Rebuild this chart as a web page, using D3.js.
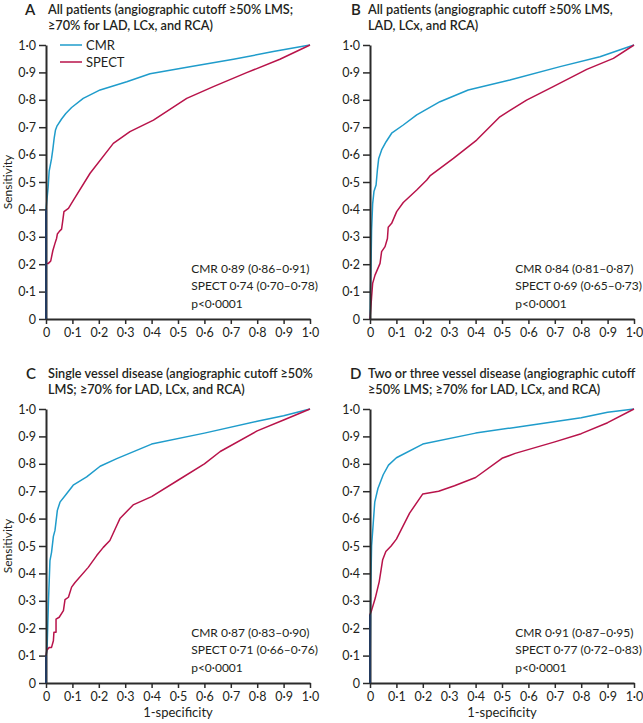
<!DOCTYPE html>
<html><head><meta charset="utf-8">
<script src="https://cdn.jsdelivr.net/npm/d3@7"></script>
<style>
html,body{margin:0;padding:0;background:#fff;overflow:hidden;}
svg{display:block;}
svg text{font-family:Lato,"Noto Sans",sans-serif;fill:#231f20;}
</style></head>
<body><svg id="c" width="643" height="723"></svg>
<script>
// ---------- data ----------
const panelLetters = ["A","B","C","D"];
const panelTitles = [
  ["All patients (angiographic cutoff \u226550% LMS;", "\u226570% for LAD, LCx, and RCA)"],
  ["All patients (angiographic cutoff \u226550% LMS,", "LAD, LCx, and RCA)"],
  ["Single vessel disease (angiographic cutoff \u226550%", "LMS; \u226570% for LAD, LCx, and RCA)"],
  ["Two or three vessel disease (angiographic cutoff", "\u226550% LMS; \u226570% for LAD, LCx, and RCA)"]
];
const seriesNames = ["CMR","SPECT"];
const annotations = [
  ["CMR 0\u00b789 (0\u00b786\u20130\u00b791)","SPECT 0\u00b774 (0\u00b770\u20130\u00b778)","p<0\u00b70001"],
  ["CMR 0\u00b784 (0\u00b781\u20130\u00b787)","SPECT 0\u00b769 (0\u00b765\u20130\u00b773)","p<0\u00b70001"],
  ["CMR 0\u00b787 (0\u00b783\u20130\u00b790)","SPECT 0\u00b771 (0\u00b766\u20130\u00b776)","p<0\u00b70001"],
  ["CMR 0\u00b791 (0\u00b787\u20130\u00b795)","SPECT 0\u00b777 (0\u00b772\u20130\u00b783)","p<0\u00b70001"]
];
const tickValues = [0,0.1,0.2,0.3,0.4,0.5,0.6,0.7,0.8,0.9,1.0];
const tickLabels = ["0","0\u00b71","0\u00b72","0\u00b73","0\u00b74","0\u00b75","0\u00b76","0\u00b77","0\u00b78","0\u00b79","1\u00b70"];
const xAxisTitle = "1-specificity";
const yAxisTitle = "Sensitivity";

const cmrA = [[0,0],[0,0.40],[0.004,0.44],[0.008,0.48],[0.012,0.54],[0.016,0.56],[0.021,0.585],[0.026,0.62],[0.031,0.66],[0.036,0.69],[0.042,0.705],[0.059,0.73],[0.075,0.75],[0.097,0.772],[0.141,0.805],[0.205,0.836],[0.306,0.866],[0.394,0.895],[0.545,0.921],[0.71,0.948],[0.861,0.976],[1,1]];
const spectA = [[0,0],[0,0.203],[0.009,0.203],[0.018,0.212],[0.026,0.25],[0.034,0.276],[0.04,0.294],[0.043,0.31],[0.05,0.319],[0.059,0.328],[0.063,0.355],[0.068,0.392],[0.085,0.404],[0.104,0.434],[0.167,0.532],[0.255,0.641],[0.318,0.684],[0.407,0.726],[0.533,0.805],[0.634,0.848],[0.76,0.899],[0.886,0.948],[1,1]];

const cmrB = [[0,0],[0.004,0.2],[0.006,0.325],[0.01,0.42],[0.015,0.465],[0.023,0.489],[0.028,0.544],[0.033,0.586],[0.044,0.617],[0.061,0.647],[0.082,0.678],[0.126,0.708],[0.177,0.745],[0.265,0.793],[0.372,0.836],[0.53,0.872],[0.72,0.921],[0.871,0.957],[1,1]];
const spectB = [[0,0],[0.006,0.08],[0.01,0.13],[0.019,0.16],[0.038,0.203],[0.044,0.246],[0.057,0.264],[0.066,0.294],[0.069,0.335],[0.082,0.349],[0.101,0.392],[0.126,0.425],[0.177,0.471],[0.215,0.507],[0.227,0.522],[0.316,0.586],[0.404,0.653],[0.492,0.738],[0.593,0.799],[0.694,0.848],[0.821,0.911],[0.922,0.951],[1,1]];

const cmrC = [[0,0],[0,0.099],[0.004,0.12],[0.009,0.288],[0.015,0.447],[0.021,0.477],[0.028,0.535],[0.034,0.557],[0.043,0.63],[0.053,0.66],[0.078,0.691],[0.103,0.722],[0.154,0.752],[0.205,0.791],[0.268,0.819],[0.4,0.872],[0.6,0.912],[0.8,0.955],[0.9,0.975],[1,1]];
const spectC = [[0,0],[0,0.099],[0.003,0.12],[0.0125,0.13],[0.021,0.13],[0.028,0.154],[0.03,0.185],[0.038,0.185],[0.038,0.233],[0.05,0.24],[0.066,0.264],[0.072,0.304],[0.085,0.313],[0.097,0.35],[0.11,0.367],[0.16,0.422],[0.192,0.465],[0.217,0.495],[0.242,0.52],[0.268,0.575],[0.28,0.6],[0.33,0.65],[0.4,0.68],[0.5,0.74],[0.6,0.8],[0.66,0.845],[0.8,0.92],[0.9,0.96],[1,1]];

const cmrD = [[0,0],[0.003,0.35],[0.006,0.5],[0.012,0.58],[0.018,0.66],[0.03,0.71],[0.05,0.76],[0.07,0.795],[0.1,0.822],[0.2,0.872],[0.4,0.912],[0.6,0.94],[0.8,0.968],[0.9,0.988],[1,1]];
const spectD = [[0,0],[0,0.25],[0.006,0.265],[0.02,0.31],[0.035,0.37],[0.048,0.45],[0.06,0.48],[0.08,0.5],[0.1,0.525],[0.15,0.62],[0.2,0.69],[0.26,0.70],[0.32,0.72],[0.4,0.75],[0.5,0.82],[0.55,0.838],[0.7,0.88],[0.8,0.91],[0.9,0.95],[1,1]];

const seriesData = [[cmrA,spectA],[cmrB,spectB],[cmrC,spectC],[cmrD,spectD]];

// ---------- layout ----------
const colors = ["#1f9ccb","#b8134a"];
const origins = [{x:46,y:45},{x:370,y:45},{x:46,y:409},{x:370,y:409}];
const letterX = [25,351,26,350];
const titleX = [48,368,48,368];
const W = 264, H = 274;

const svg = d3.select("#c");

panelLetters.forEach((L,i)=>{
  const o = origins[i];
  const g = svg.append("g").attr("transform",`translate(${o.x},${o.y})`);
  const x = d3.scaleLinear().domain([0,1]).range([0,W]);
  const y = d3.scaleLinear().domain([0,1]).range([H,0]);

  // title
  svg.append("text").attr("x",letterX[i]).attr("y",o.y-30.5).attr("font-size",15).attr("font-weight",600).text(L);
  panelTitles[i].forEach((t,k)=>{
    svg.append("text").attr("x",titleX[i]).attr("y",o.y-31+k*16).attr("font-size",12.7).attr("font-weight",600)
      .text(t);
  });

  // curves
  const line = d3.line().x(d=>x(d[0])).y(d=>y(d[1]));
  seriesData[i].forEach((s,k)=>{
    g.append("path").datum(s).attr("d",line).attr("fill","none").attr("stroke",colors[k]).attr("stroke-width",1.5).attr("stroke-linejoin","round");
  });

  // axes
  const fmt = (d)=>tickLabels[tickValues.indexOf(d)];
  const xa = g.append("g").attr("transform",`translate(0,${H})`)
    .call(d3.axisBottom(x).tickValues(tickValues).tickFormat(fmt).tickSize(5).tickPadding(4).tickSizeOuter(0));
  const ya = g.append("g").call(d3.axisLeft(y).tickValues(tickValues).tickFormat(fmt).tickSize(7).tickPadding(3).tickSizeOuter(0));
  [xa,ya].forEach(a=>{
    a.select(".domain").attr("stroke","#2b2b2b").attr("stroke-width",2);
    a.selectAll(".tick line").attr("stroke","#2b2b2b").attr("stroke-width",1.5);
    a.selectAll(".tick text").attr("font-size",12.5).attr("fill","#231f20").style("font-family",'Lato,sans-serif');
  });
  seriesData[i].forEach((s,k)=>{
    const seg = s.filter(d=>d[0]===0);
    if(seg.length>1) g.append("path").datum(seg).attr("d",line).attr("fill","none").attr("stroke","#233a5e").attr("stroke-width",2);
  });

  // y label
  if(o.x===46){
    svg.append("text").attr("transform",`translate(12,${o.y+H/2}) rotate(-90)`).attr("text-anchor","middle").attr("font-size",12).text(yAxisTitle);
  }
  // x label
  if(o.y===409){
    svg.append("text").attr("x",o.x+W/2).attr("y",717).attr("text-anchor","middle").attr("font-size",13).text(xAxisTitle);
  }

  // annotations
  annotations[i].forEach((t,k)=>{
    g.append("text").attr("x",x(0.55)).attr("y",y(0.168)+k*17.3).attr("font-size",12).text(t);
  });

  // legend
  if(i===0){
    seriesNames.forEach((n,k)=>{
      const ly = y(1) + k*17;
      g.append("line").attr("x1",14).attr("x2",36).attr("y1",ly).attr("y2",ly).attr("stroke",colors[k]).attr("stroke-width",1.5);
      g.append("text").attr("x",40).attr("y",ly+4.5).attr("font-size",13).text(n);
    });
  }
});
</script></body></html>
